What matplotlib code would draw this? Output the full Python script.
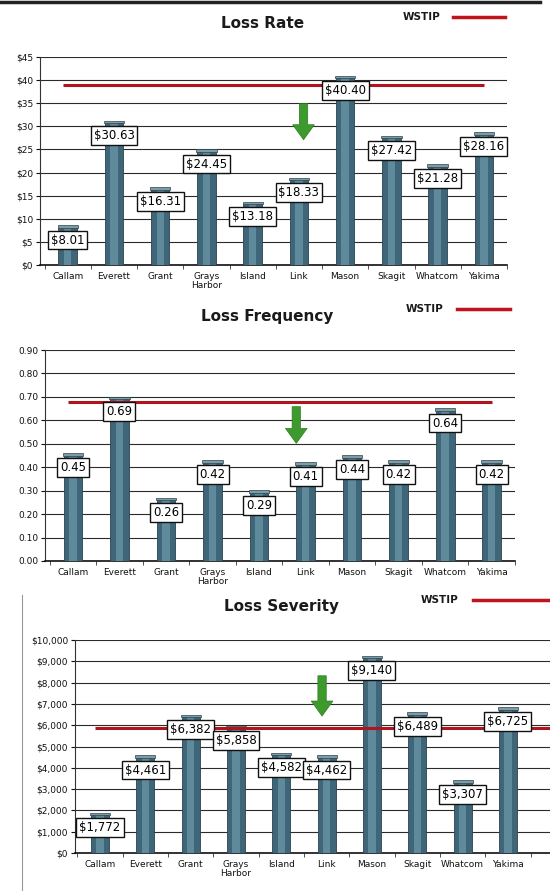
import matplotlib.pyplot as plt
from matplotlib.lines import Line2D
import numpy as np

# Data
offices = ["Callam", "Everett", "Grant", "Grays\nHarbor", "Island",
           "Link", "Mason", "Skagit", "Whatcom", "Yakima"]
loss_rate = [8.01, 30.63, 16.31, 24.45, 13.18, 18.33, 40.40, 27.42, 21.28, 28.16]
loss_freq = [0.45, 0.69, 0.26, 0.42, 0.29, 0.41, 0.44, 0.42, 0.64, 0.42]
loss_sev = [1772, 4461, 6382, 5858, 4582, 4462, 9140, 6489, 3307, 6725]
wstip_rate = 39.0
wstip_freq = 0.68
wstip_sev = 5850

rate_labels = [f"${v:.2f}" for v in loss_rate]
freq_labels = [f"{v:.2f}" for v in loss_freq]
sev_labels = [f"${v:,}" for v in loss_sev]

W, H = 550, 891
fig = plt.figure(figsize=(W / 100, H / 100), dpi=100)
fig.patch.set_facecolor("white")


def fx(px):
    return px / W


def fy(py):
    return 1 - py / H


def panel(rect, vals, labels, wstip, ymax, ystep, fmt, xlim, wstip_end, arrow):
    ax = fig.add_axes(rect)
    x = np.arange(len(vals))
    v = np.array(vals)
    # cylinder-ish bars: dark body, lighter core, cap on top
    ax.bar(x, v, width=0.4, color="#3f6678", edgecolor="#2a4350", linewidth=0.6, zorder=3)
    ax.bar(x, v, width=0.16, color="#5f8a9b", linewidth=0, zorder=3)
    cap = ymax * 0.012
    ax.bar(x, cap, bottom=v, width=0.44, color="#7f9ca6", edgecolor="#2a4350",
           linewidth=0.5, zorder=4)

    ax.hlines(wstip, -0.1, wstip_end, color="#b0141c", lw=2.2, zorder=4.5)

    for xi, vi, lab in zip(x, v, labels):
        ax.annotate(lab, xy=(xi, vi), xytext=(0, -4), textcoords="offset points",
                    ha="center", va="top", fontsize=8.5, color="#000", zorder=6,
                    bbox=dict(boxstyle="square,pad=0.25", fc="white", ec="#111", lw=1))

    ax.annotate("", xy=(arrow[0], arrow[2]), xytext=(arrow[0], arrow[1]),
                arrowprops=dict(arrowstyle="simple,head_width=1.3,head_length=0.9,tail_width=0.5",
                                fc="#3d9b2e", ec="#2c7a20", lw=0.5, mutation_scale=12),
                zorder=5)

    ax.set_xlim(*xlim)
    ax.set_ylim(0, ymax)
    ticks = np.arange(0, ymax + ystep / 2, ystep)
    ax.set_yticks(ticks)
    ax.set_yticklabels([fmt(t) for t in ticks])
    ax.set_xticks(x)
    ax.set_xticklabels(offices, fontsize=6.5, linespacing=0.95)
    ax.set_xticks(np.arange(-0.5, len(vals), 1), minor=True)
    ax.tick_params(axis="x", which="major", length=0, pad=5, colors="#111")
    ax.tick_params(axis="x", which="minor", length=3, color="#333")
    ax.tick_params(axis="y", length=3, labelsize=6.5, colors="#111", pad=2)
    ax.grid(axis="y", color="#2b2b2b", lw=0.8, zorder=0)
    ax.set_axisbelow(True)
    for s in ["top", "right"]:
        ax.spines[s].set_visible(False)
    ax.spines["left"].set_color("#333")
    ax.spines["left"].set_linewidth(0.8)
    ax.spines["bottom"].set_color("#111")
    ax.spines["bottom"].set_linewidth(1.2)
    return ax


def header(title, tx, ty, lx, ly, l0, l1):
    fig.text(fx(tx), fy(ty), title, ha="center", va="center",
             fontsize=11, fontweight="bold", color="#1a1a1a")
    fig.text(fx(lx), fy(ly), "WSTIP", ha="center", va="center",
             fontsize=7.5, fontweight="bold", color="#1a1a1a")
    fig.add_artist(Line2D([fx(l0), fx(l1)], [fy(ly), fy(ly)], color="#c0141c", lw=2.5))


# Loss Rate
panel([fx(40), fy(265), fx(467), 208 / H], loss_rate, rate_labels, wstip_rate,
      45, 5, lambda t: f"${t:.0f}", (-0.6, 9.5), 9.0, (5.1, 35.5, 26.5))
header("Loss Rate", 263, 23, 422, 17, 453, 505)

# Loss Frequency
panel([fx(45), fy(561), fx(470), 211 / H], loss_freq, freq_labels, wstip_freq,
      0.90, 0.10, lambda t: f"{t:.2f}", (-0.6, 9.5), 9.0, (4.8, 0.67, 0.49))
header("Loss Frequency", 267, 317, 425, 309, 457, 510)

# Loss Severity
panel([fx(75), fy(853), fx(476), 213 / H], loss_sev, sev_labels, wstip_sev,
      10000, 1000, lambda t: f"${t:,.0f}", (-0.55, 9.95), 9.95, (4.9, 8450, 6300))
header("Loss Severity", 282, 607, 440, 600, 473, 552)

# scan artefacts: dark rule at the top and faint margin line at the bottom panel
fig.add_artist(Line2D([0, fx(540)], [fy(1.5), fy(1.5)], color="#222", lw=2.5))
fig.add_artist(Line2D([fx(22), fx(22)], [fy(595), 0], color="#999", lw=0.8))

fig.savefig("out.png", dpi=100)
